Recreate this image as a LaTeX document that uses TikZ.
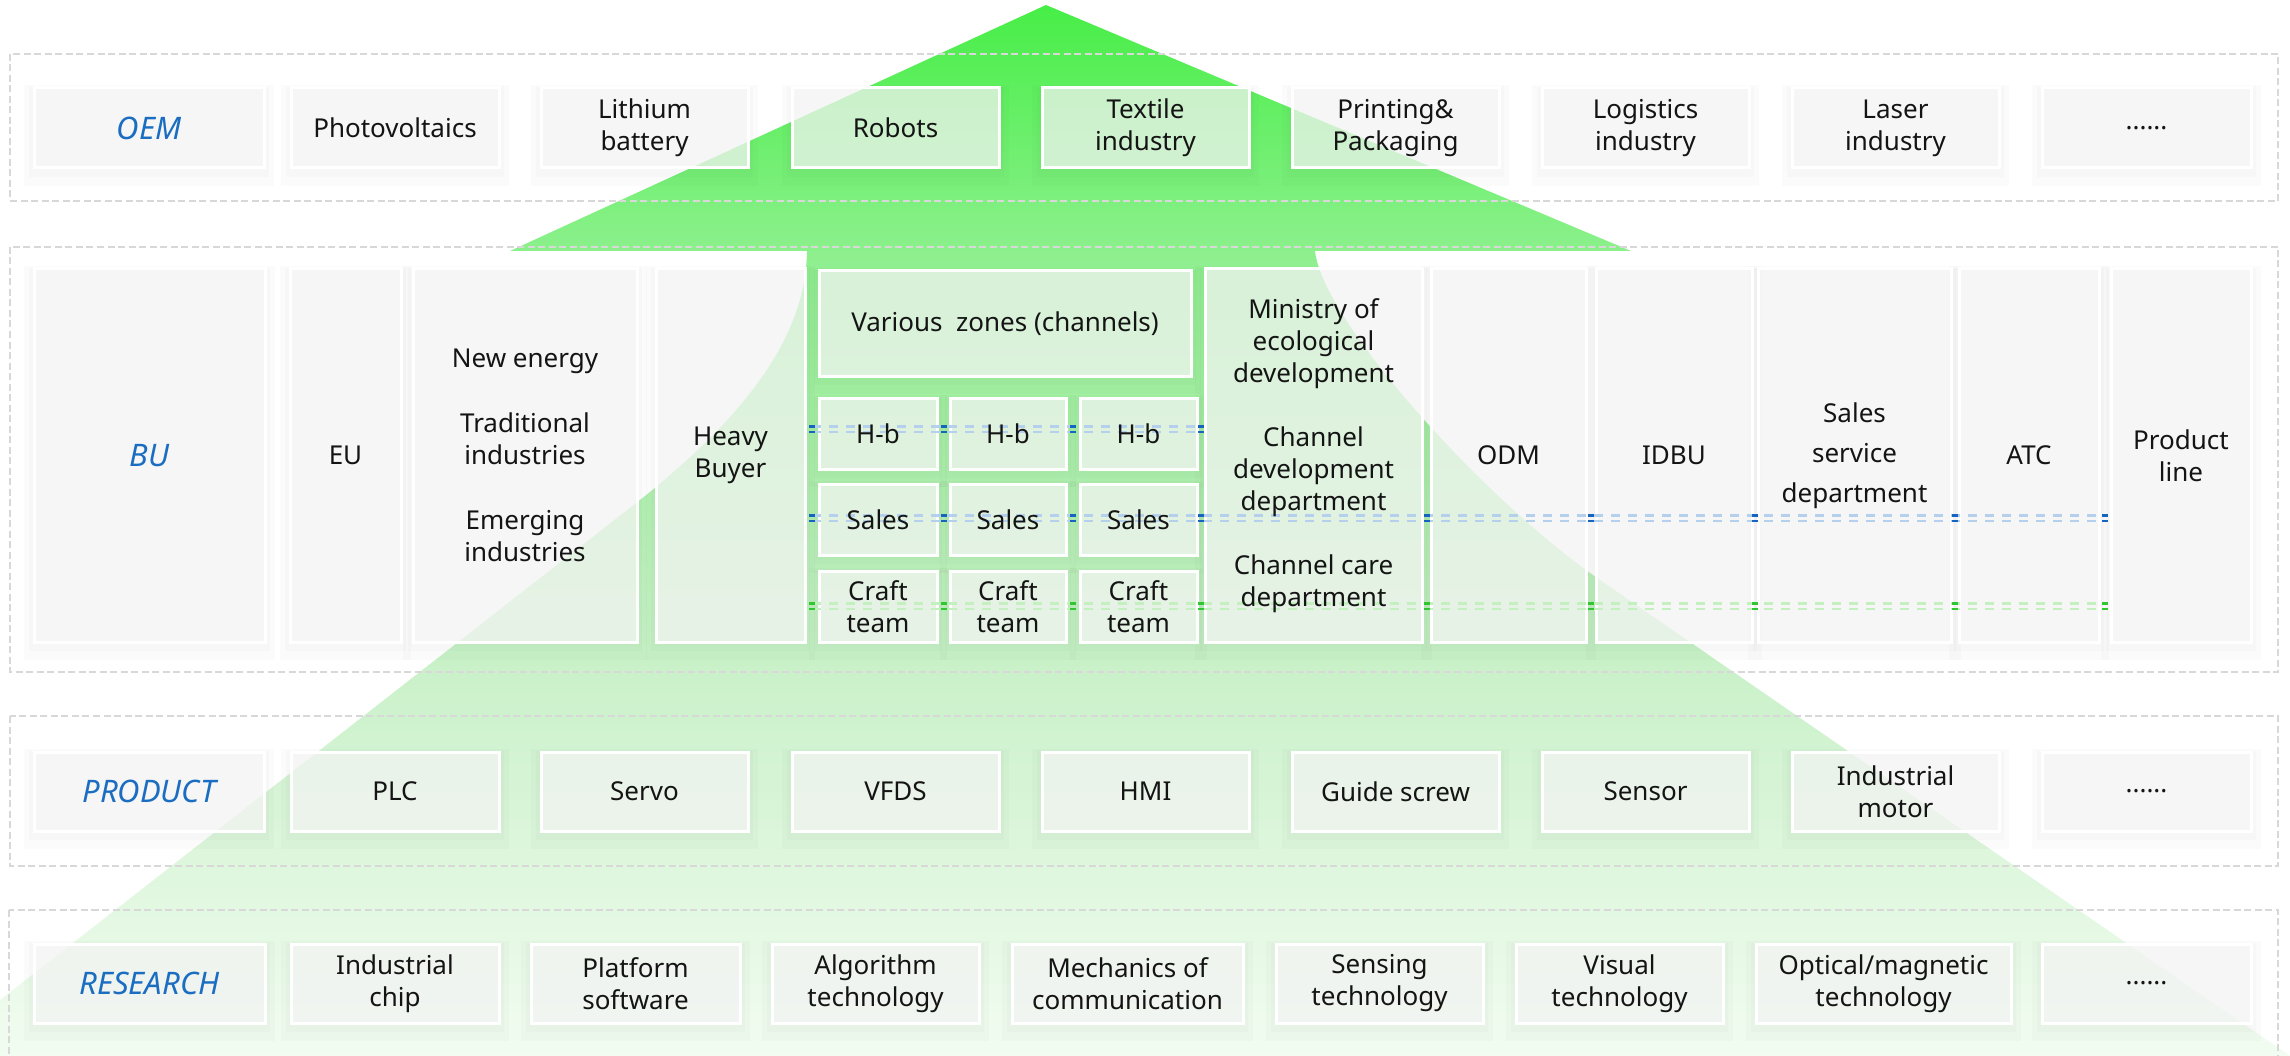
\documentclass[tikz,border=0pt]{standalone}
\usepackage{fontspec}
\setmainfont{Noto Sans}
\usetikzlibrary{calc}
\definecolor{txt}{HTML}{141414}
\definecolor{lblblue}{HTML}{1A6DC0}
\definecolor{gA}{HTML}{47EE47}
\definecolor{gB}{HTML}{8CF08C}
\definecolor{lc1}{HTML}{8EEF8E}
\definecolor{lc2}{HTML}{CAF1C9}
\definecolor{lc3}{HTML}{F2FCF1}
\definecolor{boxgray}{HTML}{F6F6F6}
\definecolor{rowdash}{HTML}{D8D8D8}
\definecolor{bl1}{HTML}{B4D0EC}
\definecolor{bl2}{HTML}{1565C0}
\definecolor{gr1}{HTML}{C4F0C0}
\definecolor{gr2}{HTML}{2FC62F}
\pgfdeclarelayer{bgl}\pgfdeclarelayer{shad}\pgfdeclarelayer{fills}\pgfdeclarelayer{lines}
\pgfsetlayers{bgl,shad,fills,lines,main}
\pgfdeclareverticalshading{lowsh}{100bp}{color(0bp)=(lc3); color(25bp)=(lc3); color(49bp)=(lc2); color(75bp)=(lc1); color(100bp)=(lc1)}
\tikzset{
  boxtext/.style={inner sep=0pt, outer sep=0pt, align=center, text=txt, font=\fontsize{26}{32}\selectfont},
  lbl/.style={text=lblblue, font=\fontsize{31}{36}\selectfont\itshape},
  boxfill/.style={fill=boxgray, fill opacity=0.72, draw=white, line width=3pt},
  rowbox/.style={draw=rowdash, line width=2pt, dash pattern=on 7pt off 3.5pt},
  bln/.style={draw=bl1, line width=2.2pt, dash pattern=on 9pt off 8pt},
  gln/.style={draw=gr1, line width=2.2pt, dash pattern=on 9pt off 8pt}
}
\newcommand\bx[7][]{%
  \node[boxtext,#1,minimum width={#5-#3},minimum height={#6-#4}] (#2) at ({(#3+#5)/2},{(#4+#6)/2}) {#7};
  \begin{pgfonlayer}{shad}
    \fill[black,opacity=.014] ([shift={(-10,-3)}]#2.north west) rectangle ([shift={(10,18)}]#2.south east);
    \fill[black,opacity=.016] ([shift={(-5,-1)}]#2.north west) rectangle ([shift={(5,9)}]#2.south east);
  \end{pgfonlayer}
  \begin{pgfonlayer}{fills}
    \draw[boxfill] (#2.south west) rectangle (#2.north east);
  \end{pgfonlayer}}
\newcommand\dbl[3]{%
  \draw[#1,transform canvas={yshift=2.6pt}] #2 -- #3;
  \draw[#1,transform canvas={yshift=-2.6pt}] #2 -- #3;}
\newcommand\mk[2]{%
  \fill[#1] ($#2+(-3,-3.7)$) rectangle ++(6,2.2);
  \fill[#1] ($#2+(-3,1.5)$) rectangle ++(6,2.2);}
\begin{document}
\begin{tikzpicture}[x=1pt,y=-1pt]
\useasboundingbox (0,0) rectangle (2290,1056);
\begin{pgfonlayer}{bgl}
  \fill[white] (0,0) rectangle (2290,1056);
  \shade[top color=gA, bottom color=gB] (1046,5) -- (1631,251) -- (510,251) -- cycle;
  \shade[shading=lowsh] (807,251) .. controls (806,340) and (740,420) .. (640,500) -- (0,1000) -- (0,1056) -- (2290,1056) -- (1600,580) .. controls (1484,500) and (1322,320) .. (1315,251) -- cycle;
  \draw[rowbox] (10,54) rectangle (2278,201);
  \draw[rowbox] (10,247) rectangle (2278,672);
  \draw[rowbox] (10,716) rectangle (2278,866);
  \draw[rowbox] (9,910) rectangle (2278,1064);
\end{pgfonlayer}
% OEM row
\bx[lbl]{oem}{34}{88}{264}{168}{OEM}
\bx{o1}{291}{88}{499}{168}{Photovoltaics}
\bx{o2}{541}{88}{748}{168}{Lithium\\battery}
\bx{o3}{792}{88}{999}{168}{Robots}
\bx{o4}{1042}{88}{1249}{168}{Textile\\industry}
\bx{o5}{1292}{88}{1499}{168}{Printing\&\\Packaging}
\bx{o6}{1542}{88}{1749}{168}{Logistics\\industry}
\bx{o7}{1792}{88}{1999}{168}{Laser\\industry}
\bx{o8}{2042}{88}{2251}{168}{......}
% BU row
\bx[lbl]{bu}{34}{269}{265}{642}{BU}
\bx{eu}{290}{269}{401}{642}{EU}
\bx{ne}{413}{269}{637}{642}{New energy\\[33pt]Traditional\\industries\\[33pt]Emerging\\industries}
\bx{heavy}{656}{269}{805}{642}{Heavy\\Buyer}
\bx{zones}{819}{271}{1191}{376}{Various\ \ zones (channels)}
\bx{hb1}{819}{398}{937}{469}{H-b}
\bx{hb2}{950}{398}{1066}{469}{H-b}
\bx{hb3}{1080}{398}{1197}{469}{H-b}
\bx{sa1}{819}{484}{937}{555}{Sales}
\bx{sa2}{950}{484}{1066}{555}{Sales}
\bx{sa3}{1080}{484}{1197}{555}{Sales}
\bx{cr1}{819}{571}{937}{642}{Craft\\team}
\bx{cr2}{950}{571}{1066}{642}{Craft\\team}
\bx{cr3}{1080}{571}{1197}{642}{Craft\\team}
\bx{min}{1205}{269}{1422}{642}{Ministry of\\ecological\\development\\[32pt]Channel\\development\\department\\[32pt]Channel care\\department}
\bx{odm}{1431}{269}{1586}{642}{ODM}
\bx{idbu}{1596}{269}{1752}{642}{IDBU}
\bx[font=\fontsize{26}{40}\selectfont]{ssd}{1758}{269}{1951}{642}{Sales\\service\\department}
\bx{atc}{1959}{269}{2099}{642}{ATC}
\bx{pline}{2111}{269}{2251}{642}{Product\\line}
% PRODUCT row
\bx[lbl]{prod}{34}{752}{264}{831}{PRODUCT}
\bx{p1}{291}{752}{499}{831}{PLC}
\bx{p2}{541}{752}{748}{831}{Servo}
\bx{p3}{792}{752}{999}{831}{VFDS}
\bx{p4}{1042}{752}{1249}{831}{HMI}
\bx{p5}{1292}{752}{1499}{831}{Guide screw}
\bx{p6}{1542}{752}{1749}{831}{Sensor}
\bx{p7}{1792}{752}{1999}{831}{Industrial\\motor}
\bx{p8}{2042}{752}{2251}{831}{......}
% RESEARCH row
\bx[lbl]{res}{34}{944}{265}{1023}{RESEARCH}
\bx{r1}{291}{944}{499}{1023}{Industrial\\chip}
\bx{r2}{531}{944}{740}{1023}{Platform\\software}
\bx{r3}{772}{944}{979}{1023}{Algorithm\\technology}
\bx{r4}{1012}{944}{1243}{1023}{Mechanics of\\communication}
\bx{r5}{1276}{944}{1483}{1023}{Sensing\\technology}
\bx{r6}{1516}{944}{1723}{1023}{Visual\\technology}
\bx{r7}{1756}{944}{2011}{1023}{Optical/magnetic\\technology}
\bx{r8}{2042}{944}{2251}{1023}{......}
% connector lines
\coordinate (yhb) at (0,429);
\coordinate (ysa) at (0,518);
\coordinate (ycr) at (0,606);
\path ($(heavy.east)!.5!(hb1.west)$) coordinate (g0);
\path ($(hb1.east)!.5!(hb2.west)$) coordinate (g1);
\path ($(hb2.east)!.5!(hb3.west)$) coordinate (g2);
\path ($(hb3.east)!.5!(min.west)$) coordinate (g3);
\path ($(min.east)!.5!(odm.west)$) coordinate (g4);
\path ($(odm.east)!.5!(idbu.west)$) coordinate (g5);
\path ($(idbu.east)!.5!(ssd.west)$) coordinate (g6);
\path ($(ssd.east)!.5!(atc.west)$) coordinate (g7);
\path ($(atc.east)!.5!(pline.west)$) coordinate (g8);
\begin{pgfonlayer}{lines}
  \dbl{bln}{(g0 |- yhb)}{(g3 |- yhb)}
  \dbl{bln}{(g0 |- ysa)}{(g8 |- ysa)}
  \dbl{gln}{(g0 |- ycr)}{(g8 |- ycr)}
  \foreach \g in {g0,g1,g2,g3} {\mk{bl2}{(\g |- yhb)}}
  \foreach \g in {g0,g1,g2,g3,g4,g5,g6,g7,g8} {\mk{bl2}{(\g |- ysa)}\mk{gr2}{(\g |- ycr)}}
\end{pgfonlayer}
\end{tikzpicture}
\end{document}
